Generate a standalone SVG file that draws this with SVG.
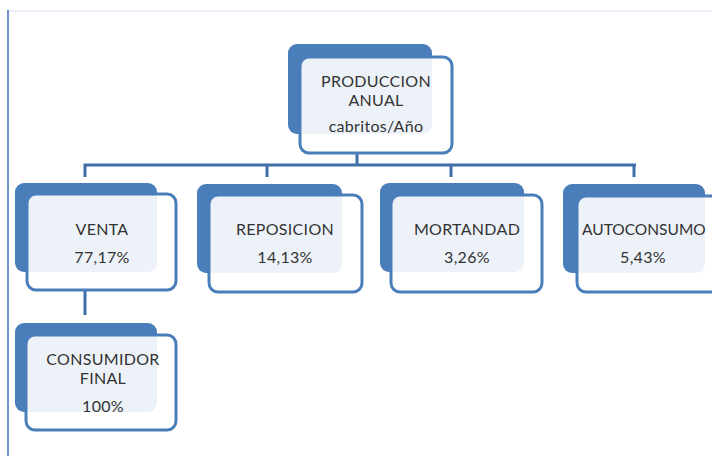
<svg xmlns="http://www.w3.org/2000/svg" width="712" height="456" viewBox="0 0 712 456">
<style>
.back{fill:#4A7EBB}
.front{fill:#FFFFFF;fill-opacity:0.9;stroke:#4A7EBB;stroke-width:3}
.t{font-family:Lato,"Liberation Sans",sans-serif;font-size:16px;letter-spacing:0.3px;fill:#333333;text-anchor:middle}
.c{stroke:#3F6FA8;stroke-width:3;fill:none}
</style>
<rect width="712" height="456" fill="#FFFFFF"/>
<line x1="8" y1="11" x2="712" y2="11" stroke="#E3EDF8" stroke-width="1.5"/>
<line x1="8" y1="10" x2="8" y2="456" stroke="#6F93C8" stroke-width="2"/>
<g id="connectors">
<path class="c" d="M357 152V165M85 177V165H636M267 165V177M451 165V177M634 165V177"/>
<path class="c" d="M85 290V315"/>
</g>
<g id="produccion">
<rect class="back" x="288" y="44" width="144" height="90" rx="9"/>
<rect class="front" x="300" y="57" width="152" height="96" rx="9"/>
<text class="t" x="376" y="87">PRODUCCION</text>
<text class="t" x="376" y="106">ANUAL</text>
<text class="t" x="376" y="132">cabritos/Año</text>
</g>
<g id="venta">
<rect class="back" x="15" y="183" width="142" height="89" rx="9"/>
<rect class="front" x="27" y="194" width="149" height="96" rx="9"/>
<text class="t" x="102" y="235">VENTA</text>
<text class="t" x="102" y="263">77,17%</text>
</g>
<g id="reposicion">
<rect class="back" x="197" y="184" width="145" height="89" rx="9"/>
<rect class="front" x="209" y="195" width="153" height="97" rx="9"/>
<text class="t" x="285" y="235">REPOSICION</text>
<text class="t" x="285" y="263">14,13%</text>
</g>
<g id="mortandad">
<rect class="back" x="380" y="183" width="144" height="89" rx="9"/>
<rect class="front" x="391" y="195" width="151" height="97" rx="9"/>
<text class="t" x="467" y="235">MORTANDAD</text>
<text class="t" x="467" y="263">3,26%</text>
</g>
<g id="autoconsumo">
<rect class="back" x="563" y="184" width="142" height="89" rx="9"/>
<rect class="front" x="577" y="196" width="152" height="96" rx="9"/>
<text class="t" x="582" y="235" style="text-anchor:start;letter-spacing:0;font-size:15.5px">AUTOCONSUMO</text>
<text class="t" x="643" y="263">5,43%</text>
</g>
<g id="consumidor">
<rect class="back" x="15" y="323" width="142" height="89" rx="9"/>
<rect class="front" x="26" y="335" width="150" height="95" rx="9"/>
<text class="t" x="103" y="365">CONSUMIDOR</text>
<text class="t" x="103" y="384">FINAL</text>
<text class="t" x="103" y="412">100%</text>
</g>
</svg>
